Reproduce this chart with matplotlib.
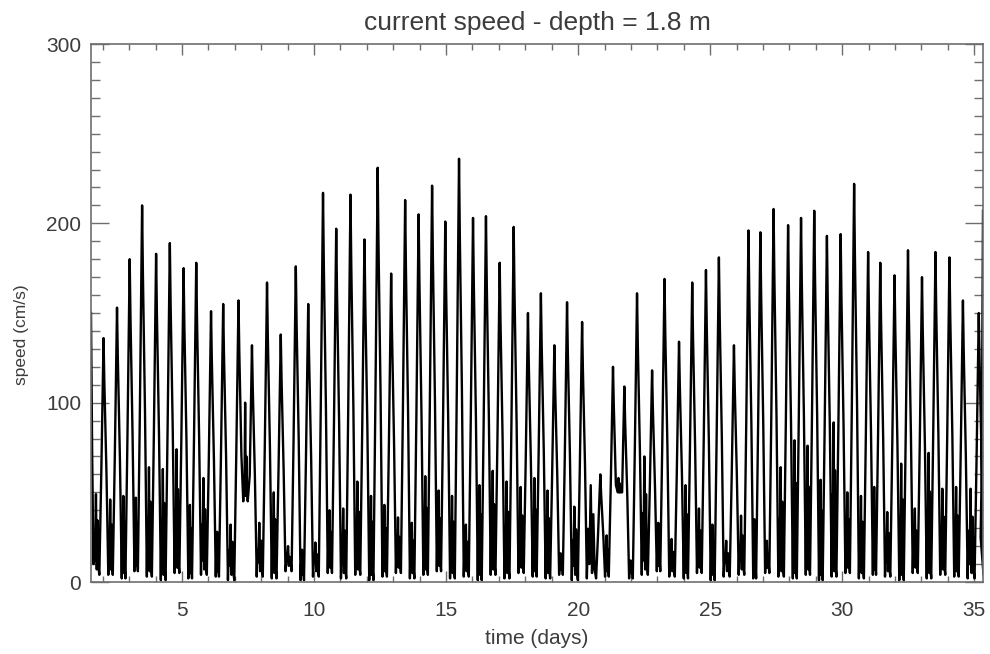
import matplotlib
matplotlib.use("Agg")

import matplotlib.pyplot as plt
from matplotlib.ticker import MultipleLocator


# times (days) and speeds (cm/s) of the main flood/ebb peaks
PEAK_TIMES = [
    2.03, 2.54, 3.02, 3.49, 4.02, 4.54, 5.06, 5.54, 6.10, 6.56,
    7.14, 7.65, 8.22, 8.74, 9.31, 9.78, 10.34, 10.84, 11.38, 11.91,
    12.41, 12.92, 13.45, 13.96, 14.47, 14.97, 15.49, 16.02, 16.51, 17.03,
    17.56, 18.10, 18.59, 19.10, 19.58, 20.15, 20.84, 21.32, 21.75, 22.23,
    22.80, 23.27, 23.82, 24.32, 24.84, 25.33, 25.90, 26.45, 26.90, 27.40,
    27.95, 28.44, 28.94, 29.42, 29.94, 30.45, 30.98, 31.44, 31.98, 32.49,
    33.02, 33.53, 34.06, 34.57, 35.17,
]

PEAK_SPEEDS = [
    136, 153, 180, 210, 183, 189, 175, 178, 151, 155,
    157, 132, 167, 138, 176, 155, 217, 197, 216, 191,
    231, 172, 213, 205, 221, 201, 236, 203, 204, 178,
    198, 150, 161, 132, 156, 145, 60, 120, 109, 161,
    118, 169, 134, 167, 174, 181, 132, 196, 195, 208,
    199, 203, 207, 193, 194, 222, 184, 178, 171, 185,
    170, 184, 181, 157, 150,
]

# highest secondary bump between a peak and the next one
BUMP_SPEEDS = [
    46, 48, 47, 64, 63, 74, 43, 58, 28, 32,
    100, 33, 50, 20, 18, 22, 40, 41, 56, 48,
    43, 36, 33, 59, 51, 48, 32, 54, 62, 56,
    53, 58, 51, 16, 42, 54, 26, 51, 12, 70,
    33, 24, 54, 41, 32, 23, 37, 35, 23, 64,
    79, 76, 57, 89, 50, 48, 53, 39, 66, 41,
    72, 52, 53, 52,
]

# lowest level reached between a peak and the next one
FLOOR_SPEEDS = [
    4, 2, 6, 3, 1, 5, 2, 4, 3, 1,
    45, 3, 2, 6, 1, 3, 5, 2, 4, 1,
    3, 5, 2, 4, 6, 2, 3, 1, 4, 2,
    5, 3, 2, 4, 1, 2, 3, 50, 2, 4,
    6, 3, 2, 5, 1, 3, 4, 2, 5, 3,
    2, 4, 1, 3, 5, 2, 4, 3, 1, 5,
    2, 4, 3, 2,
]

START_TIMES = [1.555, 1.60, 1.65]
START_SPEEDS = [150, 70, 10]
START_BUMP = 49

END_TIMES = [35.24, 35.28, 35.33]
END_SPEEDS = [25, 60, 207]

TEXT_COLOR = "#3c3c3c"
AXIS_COLOR = "#6e6e6e"


def low_phase(t_from, t_to, bump, floor):
    # secondary (weak) current between two strong peaks, with its jitter
    fractions = [0.14, 0.28, 0.42, 0.56, 0.70, 0.84]
    levels = [max(floor, 0.55 * bump), floor + 8, bump,
              floor + 3, max(floor, 0.7 * bump), floor + 5]
    times = [t_from + f * (t_to - t_from) for f in fractions]
    return times, levels


def build_series():
    times = list(START_TIMES)
    speeds = list(START_SPEEDS)

    lt, lv = low_phase(START_TIMES[-1], PEAK_TIMES[0] - 0.16, START_BUMP, 4)
    times += lt
    speeds += lv

    for i, (tp, vp) in enumerate(zip(PEAK_TIMES, PEAK_SPEEDS)):
        prev_floor = FLOOR_SPEEDS[i - 1] if i > 0 else 4
        floor = FLOOR_SPEEDS[i] if i < len(FLOOR_SPEEDS) else 4
        times += [tp - 0.16, tp - 0.085, tp, tp + 0.03, tp + 0.11, tp + 0.18]
        speeds += [prev_floor, max(prev_floor, 0.45 * vp), vp, 0.82 * vp,
                   max(floor, 0.45 * vp), floor]

        if i < len(BUMP_SPEEDS):
            lt, lv = low_phase(tp + 0.18, PEAK_TIMES[i + 1] - 0.16,
                               BUMP_SPEEDS[i], floor)
            times += lt
            speeds += lv

    times += END_TIMES
    speeds += END_SPEEDS
    return times, speeds


def main() -> None:
    plt.rcParams["font.family"] = ["Liberation Sans", "DejaVu Sans"]

    fig = plt.figure(figsize=(9.9, 6.54), dpi=100)
    ax = fig.add_axes([91 / 990, 72 / 654, 892 / 990, 538 / 654])

    times, speeds = build_series()
    ax.plot(times, speeds, color="black", linewidth=1.7)

    ax.set_xlim(1.555, 35.33)
    ax.set_ylim(0, 300)

    ax.xaxis.set_major_locator(MultipleLocator(5))
    ax.xaxis.set_minor_locator(MultipleLocator(1))
    ax.yaxis.set_major_locator(MultipleLocator(100))
    ax.yaxis.set_minor_locator(MultipleLocator(10))

    ax.tick_params(axis="both", which="both", direction="in",
                   top=True, right=True, color=AXIS_COLOR, width=1.0,
                   labelcolor=TEXT_COLOR, labelsize=15)
    ax.tick_params(axis="x", which="major", length=8, pad=14)
    ax.tick_params(axis="x", which="minor", length=4)
    ax.tick_params(axis="y", which="major", length=13, pad=7)
    ax.tick_params(axis="y", which="minor", length=6.5)

    for spine in ax.spines.values():
        spine.set_color(AXIS_COLOR)
        spine.set_linewidth(1.2)

    ax.set_xlabel("time (days)", fontsize=15, color=TEXT_COLOR, labelpad=6)
    ax.set_ylabel("speed (cm/s)", fontsize=12.5, color=TEXT_COLOR)
    ax.yaxis.set_label_coords(-0.069, 0.46)
    ax.set_title("current speed - depth = 1.8 m", fontsize=19,
                 color=TEXT_COLOR, pad=10)

    fig.savefig("out.png", dpi=100)
    plt.close(fig)


if __name__ == "__main__":
    main()
